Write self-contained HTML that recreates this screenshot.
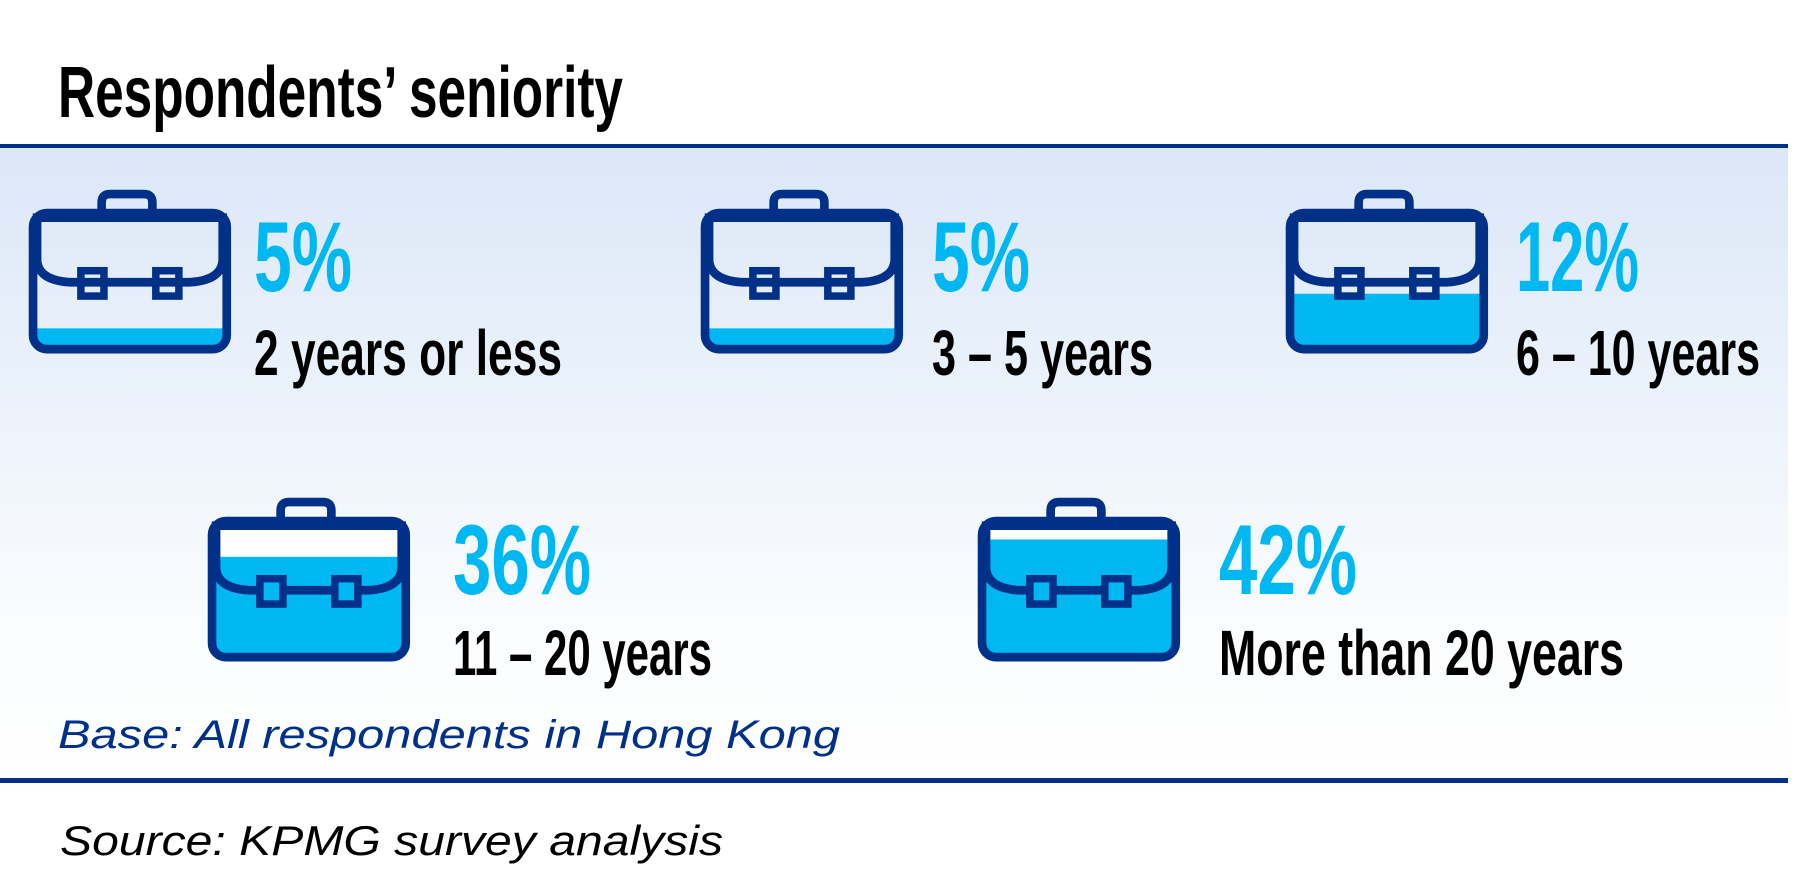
<!DOCTYPE html>
<html><head><meta charset="utf-8"><style>
html,body{margin:0;padding:0;background:#fff;width:1799px;height:894px;overflow:hidden}
svg{display:block}
</style></head><body>
<svg width="1799" height="894" viewBox="0 0 1799 894" xmlns="http://www.w3.org/2000/svg">
<defs>
<linearGradient id="bg" x1="0" y1="0" x2="0" y2="1">
<stop offset="0" stop-color="#dbe7f7"/>
<stop offset="0.75" stop-color="#fafcfe"/>
<stop offset="1" stop-color="#ffffff"/>
</linearGradient>
</defs>
<rect x="0" y="146" width="1788" height="638" fill="url(#bg)"/>
<rect x="0" y="144" width="1788" height="4" fill="#003087"/>
<rect x="0" y="778" width="1788" height="5" fill="#003087"/>

<g font-family="Liberation Sans, sans-serif" font-weight="bold">
<text x="58" y="117" font-size="72" textLength="565" lengthAdjust="spacingAndGlyphs" fill="#000">Respondents’ seniority</text>
</g>

<g transform="translate(29,190) scale(1.153)">
<path d="M63 20 V11 Q63 3.5 70 3.5 H100 Q107 3.5 107 11 V20" fill="none" stroke="#003087" stroke-width="7.5"/>
<rect x="7" y="120" width="161" height="15" fill="#00b8f1"/>
<path d="M7 24 H168 V60 Q168 78 140 80 H35 Q7 78 7 60 Z" fill="none" stroke="#003087" stroke-width="7.5"/>
<rect x="45" y="70" width="20" height="22" fill="none" stroke="#003087" stroke-width="6.5"/>
<rect x="110" y="70" width="20" height="22" fill="none" stroke="#003087" stroke-width="6.5"/>
<rect x="3.5" y="20" width="168" height="118" rx="12" fill="none" stroke="#003087" stroke-width="7.5"/>
</g>
<g transform="translate(701,190) scale(1.153)">
<path d="M63 20 V11 Q63 3.5 70 3.5 H100 Q107 3.5 107 11 V20" fill="none" stroke="#003087" stroke-width="7.5"/>
<rect x="7" y="120" width="161" height="15" fill="#00b8f1"/>
<path d="M7 24 H168 V60 Q168 78 140 80 H35 Q7 78 7 60 Z" fill="none" stroke="#003087" stroke-width="7.5"/>
<rect x="45" y="70" width="20" height="22" fill="none" stroke="#003087" stroke-width="6.5"/>
<rect x="110" y="70" width="20" height="22" fill="none" stroke="#003087" stroke-width="6.5"/>
<rect x="3.5" y="20" width="168" height="118" rx="12" fill="none" stroke="#003087" stroke-width="7.5"/>
</g>
<g transform="translate(1286,190) scale(1.153)">
<path d="M63 20 V11 Q63 3.5 70 3.5 H100 Q107 3.5 107 11 V20" fill="none" stroke="#003087" stroke-width="7.5"/>
<rect x="7" y="90" width="161" height="45" fill="#00b8f1"/>
<path d="M7 24 H168 V60 Q168 78 140 80 H35 Q7 78 7 60 Z" fill="none" stroke="#003087" stroke-width="7.5"/>
<rect x="45" y="70" width="20" height="22" fill="none" stroke="#003087" stroke-width="6.5"/>
<rect x="110" y="70" width="20" height="22" fill="none" stroke="#003087" stroke-width="6.5"/>
<rect x="3.5" y="20" width="168" height="118" rx="12" fill="none" stroke="#003087" stroke-width="7.5"/>
</g>
<g transform="translate(208,498) scale(1.153)">
<path d="M63 20 V11 Q63 3.5 70 3.5 H100 Q107 3.5 107 11 V20" fill="none" stroke="#003087" stroke-width="7.5"/>
<rect x="7" y="24" width="161" height="27" fill="#fff"/>
<rect x="7" y="51" width="161" height="84" fill="#00b8f1"/>
<path d="M7 24 H168 V60 Q168 78 140 80 H35 Q7 78 7 60 Z" fill="none" stroke="#003087" stroke-width="7.5"/>
<rect x="45" y="70" width="20" height="22" fill="#00b8f1" stroke="#003087" stroke-width="6.5"/>
<rect x="110" y="70" width="20" height="22" fill="#00b8f1" stroke="#003087" stroke-width="6.5"/>
<rect x="3.5" y="20" width="168" height="118" rx="12" fill="none" stroke="#003087" stroke-width="7.5"/>
</g>
<g transform="translate(978,498) scale(1.153)">
<path d="M63 20 V11 Q63 3.5 70 3.5 H100 Q107 3.5 107 11 V20" fill="none" stroke="#003087" stroke-width="7.5"/>
<rect x="7" y="24" width="161" height="12" fill="#fff"/>
<rect x="7" y="36" width="161" height="99" fill="#00b8f1"/>
<path d="M7 24 H168 V60 Q168 78 140 80 H35 Q7 78 7 60 Z" fill="none" stroke="#003087" stroke-width="7.5"/>
<rect x="45" y="70" width="20" height="22" fill="#00b8f1" stroke="#003087" stroke-width="6.5"/>
<rect x="110" y="70" width="20" height="22" fill="#00b8f1" stroke="#003087" stroke-width="6.5"/>
<rect x="3.5" y="20" width="168" height="118" rx="12" fill="none" stroke="#003087" stroke-width="7.5"/>
</g>

<g font-family="Liberation Sans, sans-serif" font-weight="bold">
<text x="254" y="291" font-size="99" fill="#00b8f1" textLength="98" lengthAdjust="spacingAndGlyphs">5%</text>
<text x="254" y="375" font-size="64" fill="#000" textLength="308" lengthAdjust="spacingAndGlyphs">2 years or less</text>
<text x="932" y="291" font-size="99" fill="#00b8f1" textLength="98" lengthAdjust="spacingAndGlyphs">5%</text>
<text x="932" y="375" font-size="64" fill="#000" textLength="221" lengthAdjust="spacingAndGlyphs">3 – 5 years</text>
<text x="1516" y="291" font-size="99" fill="#00b8f1" textLength="123" lengthAdjust="spacingAndGlyphs">12%</text>
<text x="1516" y="375" font-size="64" fill="#000" textLength="244" lengthAdjust="spacingAndGlyphs">6 – 10 years</text>
<text x="453" y="594" font-size="99" fill="#00b8f1" textLength="138" lengthAdjust="spacingAndGlyphs">36%</text>
<text x="453" y="675" font-size="64" fill="#000" textLength="259" lengthAdjust="spacingAndGlyphs">11 – 20 years</text>
<text x="1219" y="594" font-size="99" fill="#00b8f1" textLength="138" lengthAdjust="spacingAndGlyphs">42%</text>
<text x="1219" y="675" font-size="64" fill="#000" textLength="405" lengthAdjust="spacingAndGlyphs">More than 20 years</text>
</g>

<g font-family="Liberation Sans, sans-serif" font-style="italic">
<text x="58" y="748" font-size="40" fill="#003087" textLength="782" lengthAdjust="spacingAndGlyphs">Base: All respondents in Hong Kong</text>
<text x="60" y="855" font-size="42" fill="#000" textLength="663" lengthAdjust="spacingAndGlyphs">Source: KPMG survey analysis</text>
</g>
</svg>
</body></html>
